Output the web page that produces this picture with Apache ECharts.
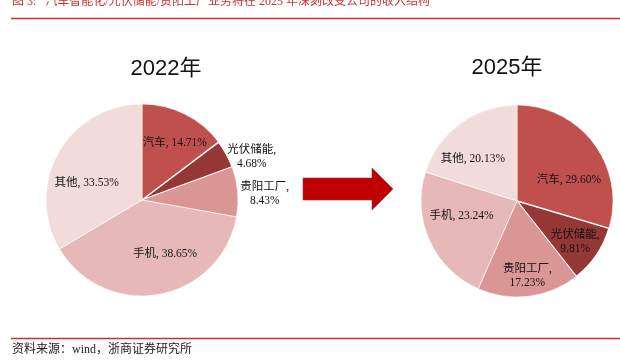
<!DOCTYPE html>
<html><head><meta charset="utf-8">
<script src="https://cdn.jsdelivr.net/npm/echarts@6/dist/echarts.min.js"></script>
<style>html,body{margin:0;padding:0;background:#fff}#c{width:620px;height:364px}</style>
</head><body><div id="c"></div>
<script>
const categories = ['汽车', '光伏储能', '贵阳工厂', '手机', '其他'];
const values2022 = [14.71, 4.68, 8.43, 38.65, 33.53];
const values2025 = [29.60, 9.81, 17.23, 23.24, 20.13];
const wrapLabel = [false, true, true, false, false];
const titleText = '图 3:   汽车智能化/光伏储能/贵阳工厂业务将在 2025 年深刻改变公司的收入结构';
const sourceText = '资料来源：wind，浙商证券研究所';

const colors = ['#C0504D', '#953735', '#D99694', '#E6B9B8', '#F2DCDB'];
const offs2022 = [[10,-11],[65,-19],[72,-2],[14,4],[-11,8]];
const offs2025 = [[11,9],[16,12],[4,24],[-9,-6],[-14,-1]];
const serif = "'Liberation Serif','Noto Sans CJK SC',serif";

function mkData(vals){
  return categories.map((n,i)=>({
    name:n, value:vals[i],
    itemStyle:{color:colors[i], borderColor:'#fff', borderWidth: i===1?1.5:0.6}
  }));
}
function mkSeries(vals, center, offs){
  return {
    type:'pie', radius:96, center:center, startAngle:90, clockwise:true,
    avoidLabelOverlap:false, silent:true,
    data:mkData(vals),
    label:{show:true, position:'inside', color:'#111', fontFamily:serif, fontSize:11.5, lineHeight:14,
      align:'center',
      formatter:p=>{const i=p.dataIndex; const v=p.value.toFixed(2)+'%'; return wrapLabel[i]?p.name+',\n'+v:p.name+', '+v;}
    },
    labelLine:{show:false},
    labelLayout:p=>{const o=offs[p.dataIndex]; return {dx:o[0], dy:o[1]};}
  };
}
const s1 = mkSeries(values2022, [142,200], offs2022);
s1.data[2].label = {backgroundColor:'#fff', padding:[1,2]};
const s2 = mkSeries(values2025, [517,201], offs2025);

const chart = echarts.init(document.getElementById('c'));
chart.setOption({
  animation:false,
  backgroundColor:'#fff',
  title:[
    {text:'2022年', left:161, top:53, textAlign:'center', textStyle:{fontSize:22, fontWeight:'normal', color:'#111', fontFamily:"'Liberation Sans','Noto Sans CJK SC',sans-serif"}},
    {text:'2025年', left:502, top:52, textAlign:'center', textStyle:{fontSize:22, fontWeight:'normal', color:'#111', fontFamily:"'Liberation Sans','Noto Sans CJK SC',sans-serif"}}
  ],
  graphic:[
    {type:'text', left:12, top:-4, style:{text:titleText, fontSize:12, fill:'#C9302C', fontFamily:serif}},
    {type:'line', shape:{x1:11,y1:18.5,x2:620,y2:18.5}, style:{stroke:'#C9302C', lineWidth:1.5}},
    {type:'line', shape:{x1:11,y1:338.5,x2:620,y2:338.5}, style:{stroke:'#C9302C', lineWidth:1.5}},
    {type:'text', left:12, top:344, style:{text:sourceText, fontSize:12, fill:'#222', fontFamily:serif}},
    {type:'polygon', shape:{points:[[303,178],[372,178],[372,168],[393,189],[372,210],[372,200],[303,200]]}, style:{fill:'#C00000', stroke:'#8B3A4A', lineWidth:0.6}}
  ],
  series:[s1, s2]
});
</script></body></html>
